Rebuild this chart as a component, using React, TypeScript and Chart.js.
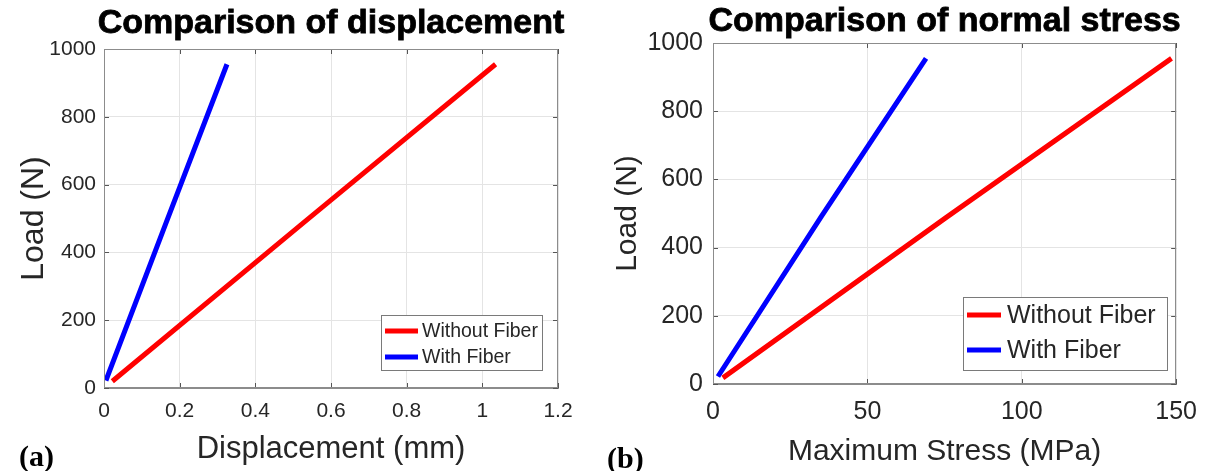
import React, { useEffect, useRef } from "react";
import { Chart, registerables } from "chart.js";
Chart.register(...registerables);

// ---- data ----
const seriesNames = ["Without Fiber", "With Fiber"];
const seriesColors = ["#ff0000", "#0000ff"];

const loadTicks = [0, 200, 400, 600, 800, 1000];
const loadTickLabels = ["0", "200", "400", "600", "800", "1000"];

const dispTicks = [0, 0.2, 0.4, 0.6, 0.8, 1, 1.2];
const dispTickLabels = ["0", "0.2", "0.4", "0.6", "0.8", "1", "1.2"];
const stressTicks = [0, 50, 100, 150];
const stressTickLabels = ["0", "50", "100", "150"];

const dispWithoutX = [0.022, 0.53, 1.035];
const dispWithoutY = [20, 490, 955];
const dispWithX = [0.005, 0.165, 0.325];
const dispWithY = [22, 490, 955];

const stressWithoutX = [3.2, 75, 148.5];
const stressWithoutY = [18, 485, 955];
const stressWithX = [1.6, 35, 69];
const stressWithY = [22, 490, 955];

const SANS = "'Liberation Sans', Arial, Helvetica, sans-serif";
const SERIF = "'Liberation Serif', 'Times New Roman', serif";
const TXT = "#262626";

type Spec = {
  width: number;
  height: number;
  title: string;
  xTitle: string;
  yTitle: string;
  panel: string;
  xTicks: number[];
  xTickLabels: string[];
  xMax: number;
  series: { x: number[]; y: number[] }[];
  yAxisWidth: number;
  xAxisHeight: number;
  padTop: number;
  padRight: number;
  tickFont: number;
  xTickPad: number;
  yTickPad: number;
  titleFont: number;
  titleY: number;
  xTitleFont: number;
  xTitleY: number;
  yTitleFont: number;
  yTitleX: number;
  panelX: number;
  panelY: number;
  legend: { x: number; y: number; w: number; h: number; lineX0: number; lineX1: number; textX: number; rows: number[]; font: number };
};

function makeDecor(spec: Spec) {
  return {
    id: "decor",
    afterDatasetsDraw(chart: any) {
      const ctx = chart.ctx as CanvasRenderingContext2D;
      const a = chart.chartArea;
      const xs = chart.scales.x;
      const ys = chart.scales.y;
      ctx.save();
      ctx.strokeStyle = "#555555";
      ctx.lineWidth = 1;
      ctx.beginPath();
      spec.xTicks.forEach((v) => {
        const px = Math.round(xs.getPixelForValue(v)) + 0.5;
        ctx.moveTo(px, a.bottom);
        ctx.lineTo(px, a.bottom - 5);
        ctx.moveTo(px, a.top);
        ctx.lineTo(px, a.top + 5);
      });
      loadTicks.forEach((v) => {
        const py = Math.round(ys.getPixelForValue(v)) + 0.5;
        ctx.moveTo(a.left, py);
        ctx.lineTo(a.left + 5, py);
        ctx.moveTo(a.right, py);
        ctx.lineTo(a.right - 5, py);
      });
      ctx.stroke();
      ctx.strokeStyle = "#8c8c8c";
      ctx.strokeRect(Math.round(a.left) + 0.5, Math.round(a.top) + 0.5, Math.round(a.right - a.left) - 1, Math.round(a.bottom - a.top) - 1);
      ctx.restore();
    },
    afterDraw(chart: any) {
      const ctx = chart.ctx as CanvasRenderingContext2D;
      const a = chart.chartArea;
      const cx = (a.left + a.right) / 2;
      const cy = (a.top + a.bottom) / 2;
      ctx.save();
      ctx.fillStyle = "#000000";
      ctx.strokeStyle = "#000000";
      ctx.lineWidth = 0.8;
      ctx.textAlign = "center";
      ctx.textBaseline = "alphabetic";
      ctx.font = `bold ${spec.titleFont}px ${SANS}`;
      ctx.fillText(spec.title, cx, spec.titleY);
      ctx.strokeText(spec.title, cx, spec.titleY);

      ctx.fillStyle = TXT;
      ctx.font = `${spec.xTitleFont}px ${SANS}`;
      ctx.fillText(spec.xTitle, cx, spec.xTitleY);

      ctx.save();
      ctx.translate(spec.yTitleX, cy);
      ctx.rotate(-Math.PI / 2);
      ctx.font = `${spec.yTitleFont}px ${SANS}`;
      ctx.fillText(spec.yTitle, 0, 0);
      ctx.restore();

      ctx.fillStyle = "#000000";
      ctx.textAlign = "left";
      ctx.font = `bold 30px ${SERIF}`;
      ctx.fillText(spec.panel, spec.panelX, spec.panelY);

      const L = spec.legend;
      ctx.fillStyle = "#ffffff";
      ctx.fillRect(L.x, L.y, L.w, L.h);
      ctx.strokeStyle = "#7a7a7a";
      ctx.lineWidth = 1;
      ctx.strokeRect(L.x + 0.5, L.y + 0.5, L.w - 1, L.h - 1);
      ctx.font = `${L.font}px ${SANS}`;
      ctx.textBaseline = "middle";
      seriesNames.forEach((name, i) => {
        ctx.strokeStyle = seriesColors[i];
        ctx.lineWidth = 5;
        ctx.beginPath();
        ctx.moveTo(L.lineX0, L.rows[i]);
        ctx.lineTo(L.lineX1, L.rows[i]);
        ctx.stroke();
        ctx.fillStyle = TXT;
        ctx.fillText(name, L.textX, L.rows[i] + 1);
      });
      ctx.restore();
    },
  };
}

function makeConfig(spec: Spec): any {
  return {
    type: "scatter",
    data: {
      datasets: spec.series.map((s, i) => ({
        label: seriesNames[i],
        data: s.x.map((x, j) => ({ x, y: s.y[j] })),
        showLine: true,
        borderColor: seriesColors[i],
        backgroundColor: seriesColors[i],
        borderWidth: 5,
        pointRadius: 0,
        borderCapStyle: "butt",
      })),
    },
    options: {
      responsive: false,
      animation: false,
      devicePixelRatio: 1,
      layout: { padding: { left: 0, right: spec.padRight, top: spec.padTop, bottom: 0 } },
      plugins: { legend: { display: false }, tooltip: { enabled: false }, title: { display: false } },
      scales: {
        x: {
          type: "linear",
          min: 0,
          max: spec.xMax,
          afterBuildTicks: (s: any) => {
            s.ticks = spec.xTicks.map((v) => ({ value: v }));
          },
          afterFit: (s: any) => {
            s.height = spec.xAxisHeight;
          },
          ticks: {
            autoSkip: false,
            maxRotation: 0,
            padding: spec.xTickPad,
            color: TXT,
            font: { family: SANS, size: spec.tickFont },
            callback: (_v: any, i: number) => spec.xTickLabels[i],
          },
          grid: { color: "#e4e4e4", drawTicks: false, lineWidth: 1 },
          border: { display: true, color: "#8c8c8c" },
        },
        y: {
          type: "linear",
          min: 0,
          max: 1000,
          afterBuildTicks: (s: any) => {
            s.ticks = loadTicks.map((v) => ({ value: v }));
          },
          afterFit: (s: any) => {
            s.width = spec.yAxisWidth;
          },
          ticks: {
            autoSkip: false,
            padding: spec.yTickPad,
            color: TXT,
            font: { family: SANS, size: spec.tickFont },
            callback: (_v: any, i: number) => loadTickLabels[i],
          },
          grid: { color: "#e4e4e4", drawTicks: false, lineWidth: 1 },
          border: { display: true, color: "#8c8c8c" },
        },
      },
    },
    plugins: [makeDecor(spec)],
  };
}

const leftSpec: Spec = {
  width: 600,
  height: 471,
  title: "Comparison of displacement",
  xTitle: "Displacement (mm)",
  yTitle: "Load (N)",
  panel: "(a)",
  xTicks: dispTicks,
  xTickLabels: dispTickLabels,
  xMax: 1.2,
  series: [
    { x: dispWithoutX, y: dispWithoutY },
    { x: dispWithX, y: dispWithY },
  ],
  yAxisWidth: 104,
  xAxisHeight: 83,
  padTop: 49,
  padRight: 42,
  tickFont: 21,
  xTickPad: 11,
  yTickPad: 8,
  titleFont: 34,
  titleY: 33,
  xTitleFont: 31,
  xTitleY: 458,
  yTitleFont: 32,
  yTitleX: 43,
  panelX: 19,
  panelY: 466,
  legend: { x: 381, y: 315, w: 162, h: 56, lineX0: 385, lineX1: 418, textX: 422, rows: [331, 357], font: 19.5 },
};

const rightSpec: Spec = {
  width: 610,
  height: 471,
  title: "Comparison of normal stress",
  xTitle: "Maximum Stress (MPa)",
  yTitle: "Load (N)",
  panel: "(b)",
  xTicks: stressTicks,
  xTickLabels: stressTickLabels,
  xMax: 150,
  series: [
    { x: stressWithoutX, y: stressWithoutY },
    { x: stressWithX, y: stressWithY },
  ],
  yAxisWidth: 113,
  xAxisHeight: 87,
  padTop: 43,
  padRight: 27,
  tickFont: 25,
  xTickPad: 13,
  yTickPad: 10,
  titleFont: 34,
  titleY: 31,
  xTitleFont: 30,
  xTitleY: 460,
  yTitleFont: 30,
  yTitleX: 36,
  panelX: 7,
  panelY: 468,
  legend: { x: 363, y: 297, w: 205, h: 74, lineX0: 367, lineX1: 401, textX: 407, rows: [315, 350], font: 25 },
};

function Panel({ spec, left }: { spec: Spec; left: number }) {
  const ref = useRef<HTMLCanvasElement | null>(null);
  useEffect(() => {
    if (!ref.current) return;
    const chart = new Chart(ref.current, makeConfig(spec));
    return () => chart.destroy();
  }, [spec]);
  return (
    <canvas
      ref={ref}
      width={spec.width}
      height={spec.height}
      style={{ position: "absolute", left, top: 0, width: spec.width, height: spec.height, display: "block" }}
    />
  );
}

export default function App() {
  return (
    <div style={{ position: "fixed", left: 0, top: 0, width: 1210, height: 471, background: "#ffffff", overflow: "hidden" }}>
      <Panel spec={leftSpec} left={0} />
      <Panel spec={rightSpec} left={600} />
    </div>
  );
}
